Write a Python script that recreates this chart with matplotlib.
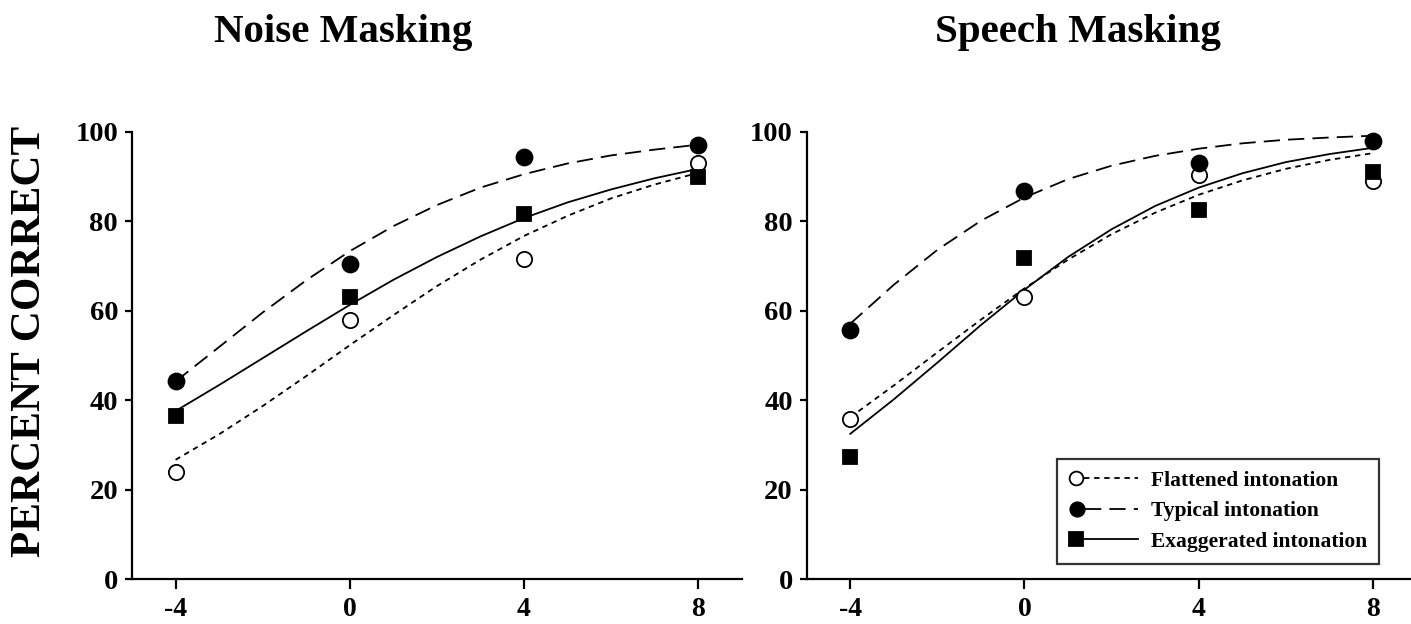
import matplotlib
matplotlib.use("Agg")
import matplotlib.pyplot as plt
from matplotlib.lines import Line2D
from matplotlib.legend_handler import HandlerBase

# ---------------- data ----------------
snr = [-4, 0, 4, 8]
fit_x = [-4, -3, -2, -1, 0, 1, 2, 3, 4, 5, 6, 7, 8]
xtick_labels = ["-4", "0", "4", "8"]
yticks = [0, 20, 40, 60, 80, 100]

titles = ["Noise Masking", "Speech Masking"]
series_labels = ["Flattened intonation", "Typical intonation", "Exaggerated intonation"]
ylabel = "PERCENT CORRECT"

# Noise masking: observed points
noise_flat = [24.0, 58.0, 71.5, 93.0]
noise_typ = [44.2, 70.5, 94.3, 97.1]
noise_exag = [36.4, 63.0, 81.7, 89.9]
# Noise masking: fitted curves
noise_flat_fit = [26.7, 32.4, 38.7, 45.4, 52.3, 59.0, 65.5, 71.4, 76.7, 81.2, 85.1, 88.2, 90.8]
noise_typ_fit = [44.2, 51.9, 59.6, 66.8, 73.3, 78.9, 83.6, 87.5, 90.5, 92.9, 94.7, 96.0, 97.1]
noise_exag_fit = [37.6, 43.4, 49.4, 55.4, 61.3, 66.9, 72.0, 76.6, 80.7, 84.2, 87.1, 89.6, 91.7]

# Speech masking: observed points
speech_flat = [35.8, 63.0, 90.4, 89.0]
speech_typ = [55.8, 86.8, 93.1, 98.0]
speech_exag = [27.4, 71.8, 82.4, 91.1]
# Speech masking: fitted curves
speech_flat_fit = [36.2, 43.3, 50.7, 58.0, 65.0, 71.4, 77.1, 81.9, 85.9, 89.1, 91.7, 93.7, 95.2]
speech_typ_fit = [57.1, 65.8, 73.6, 80.1, 85.3, 89.4, 92.4, 94.6, 96.2, 97.4, 98.2, 98.7, 99.1]
speech_exag_fit = [32.5, 40.2, 48.4, 56.8, 64.7, 72.0, 78.2, 83.4, 87.5, 90.7, 93.2, 95.0, 96.4]

# ---------------- style ----------------
SERIF = ["Liberation Serif", "DejaVu Serif"]
plt.rcParams["font.family"] = SERIF

LW = 1.3
styles = {
    "flat": dict(ls=(0, (3.0, 2.6)), marker="o", mfc="white", ms=11),
    "typ": dict(ls=(0, (9.0, 4.5)), marker="o", mfc="black", ms=11.5),
    "exag": dict(ls="-", marker="s", mfc="black", ms=10.5),
}

fig = plt.figure(figsize=(14.11, 6.24), dpi=100)
W, H = 1411.0, 624.0
ax1 = fig.add_axes([132 / W, 44.7 / H, 609.7 / W, 447.6 / H])
ax2 = fig.add_axes([806.7 / W, 44.7 / H, 609.7 / W, 447.6 / H])

panels = [
    (ax1, [(noise_flat, noise_flat_fit, "flat"), (noise_typ, noise_typ_fit, "typ"), (noise_exag, noise_exag_fit, "exag")]),
    (ax2, [(speech_flat, speech_flat_fit, "flat"), (speech_typ, speech_typ_fit, "typ"), (speech_exag, speech_exag_fit, "exag")]),
]

for ax, series in panels:
    for pts, fit, key in series:
        st = styles[key]
        ax.plot(fit_x, fit, color="black", lw=LW, linestyle=st["ls"], zorder=2)
    for pts, fit, key in series:
        st = styles[key]
        ax.plot(snr, pts, linestyle="None", marker=st["marker"], ms=st["ms"],
                mfc=st["mfc"], mec="black", mew=1.3, zorder=3, clip_on=False)
    ax.set_xlim(-5, 9)
    ax.set_ylim(0, 100)
    ax.set_xticks(snr)
    ax.set_xticklabels(xtick_labels)
    ax.set_yticks(yticks)
    ax.set_yticklabels([str(v) for v in yticks])
    for s in ("top", "right"):
        ax.spines[s].set_visible(False)
    for s in ("left", "bottom"):
        ax.spines[s].set_linewidth(1.6)
    ax.tick_params(axis="y", direction="out", length=5, width=1.6, pad=5, labelsize=20.5)
    ax.tick_params(axis="x", direction="out", length=7.5, width=1.6, pad=5, labelsize=20)
    for lab in ax.get_xticklabels() + ax.get_yticklabels():
        lab.set_fontweight("bold")

# titles
fig.text(343 / W, 1 - 42.3 / H, titles[0], ha="center", va="baseline",
         fontsize=29.5, fontweight="bold")
fig.text(1077.5 / W, 1 - 42.3 / H, titles[1], ha="center", va="baseline",
         fontsize=29.5, fontweight="bold")
# y label
fig.text(30 / W, 1 - 341 / H, ylabel, ha="center", va="center", rotation=90,
         fontsize=31, fontweight="bold")


# legend with marker on the left of the line sample
class MarkerLeftHandler(HandlerBase):
    def create_artists(self, legend, orig_handle, xdescent, ydescent,
                       width, height, fontsize, trans):
        y = height / 2.0 - ydescent
        x0 = -xdescent
        ms = orig_handle.get_markersize()
        mx = x0 + ms * 0.55
        line = Line2D([mx + ms * 0.55, x0 + width], [y, y])
        line.update_from(orig_handle)
        line.set_marker("None")
        line.set_transform(trans)
        mk = Line2D([mx], [y])
        mk.update_from(orig_handle)
        mk.set_linestyle("None")
        mk.set_transform(trans)
        return [line, mk]


handles = []
for key in ("flat", "typ", "exag"):
    st = styles[key]
    handles.append(Line2D([], [], color="black", lw=LW, linestyle=st["ls"],
                          marker=st["marker"], ms=st["ms"] * 0.9, mfc=st["mfc"],
                          mec="black", mew=1.3))

leg = ax2.legend(handles, series_labels, loc="upper left",
                 bbox_to_anchor=(1057 / W, 1 - 459 / H), bbox_transform=fig.transFigure,
                 handler_map={Line2D: MarkerLeftHandler()},
                 prop={"family": SERIF, "weight": "bold", "size": 15.5},
                 frameon=True, fancybox=False, borderpad=0.55, labelspacing=0.48,
                 handlelength=3.2, handletextpad=0.6, borderaxespad=0)
leg.get_frame().set_edgecolor("black")
leg.get_frame().set_linewidth(1.6)

fig.savefig("out.png", dpi=100)
